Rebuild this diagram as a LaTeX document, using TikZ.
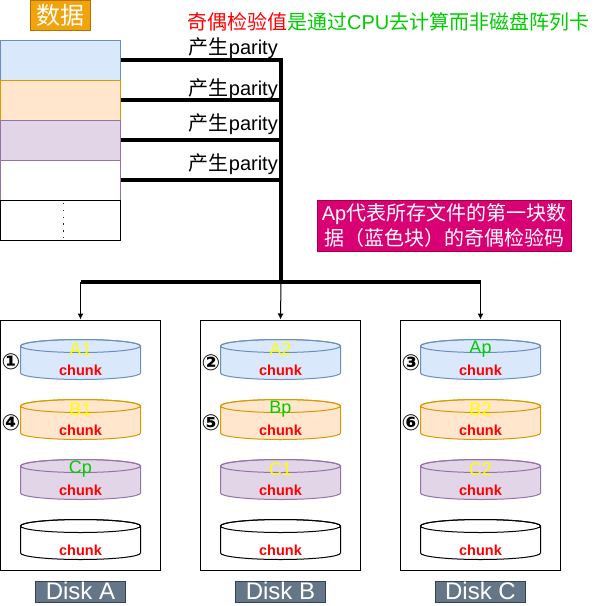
\documentclass[tikz,border=0pt]{standalone}
\usepackage{fontspec}
\setmainfont{Liberation Sans}
\newfontfamily\cjk{Noto Sans CJK SC}
\newfontfamily\circfont{DejaVu Sans}
\usetikzlibrary{positioning,arrows.meta}
\definecolor{blkfill}{HTML}{DAE8FC}
\definecolor{blkline}{HTML}{6C8EBF}
\definecolor{orgfill}{HTML}{FFE6CC}
\definecolor{orgline}{HTML}{D79B00}
\definecolor{purfill}{HTML}{E1D5E7}
\definecolor{purline}{HTML}{9673A6}
\definecolor{tagfill}{HTML}{F0A30A}
\definecolor{tagline}{HTML}{BD7000}
\definecolor{notefill}{HTML}{D80073}
\definecolor{noteline}{HTML}{A50040}
\definecolor{diskfill}{HTML}{647687}
\definecolor{diskline}{HTML}{314354}
\definecolor{pgreen}{HTML}{00CC00}
\definecolor{pyellow}{HTML}{FFFF00}
\newcommand\pxsize[1]{\fontsize{#1}{#1}\selectfont}

\begin{document}
\begin{tikzpicture}[x=1pt, y=-1pt,
    row/.style={draw, line width=1pt, minimum width=120pt, minimum height=40pt, inner sep=0pt, outer sep=0pt},
    bus/.style={line width=3.5pt},
    feed/.style={line width=1pt, ->, >={Latex[length=6pt,width=6pt]}},
    plabel/.style={anchor=east, inner sep=0pt, font=\pxsize{20}},
    disk/.style={draw, line width=1pt, minimum width=160pt, minimum height=250pt, inner sep=0pt},
    drum/.style 2 args={minimum width=122pt, minimum height=42pt, inner sep=0pt, outer sep=0pt,
      label={[text=red, font=\bfseries\pxsize{14.5}, yshift=-11pt]center:chunk},
      path picture={
        \path[fill=#1, draw=#2, line width=1pt] ([shift={(-60pt,13.5pt)}]path picture bounding box.center)
          -- ++(0pt,-27pt) arc[start angle=180, end angle=360, x radius=60pt, y radius=6.5pt]
          -- ++(0pt,27pt) arc[start angle=0, end angle=180, x radius=60pt, y radius=6.5pt] -- cycle;
        \draw[#2, line width=1pt] ([yshift=13.5pt]path picture bounding box.center)
          ellipse[x radius=60pt, y radius=6.5pt];}},
    toplbl/.style={text=pyellow, font=\pxsize{18}, yshift=10pt},
    num/.style={inner sep=0pt, font=\circfont\bfseries\pxsize{22}},
    diskname/.style={draw=diskline, fill=diskfill, text=white, line width=1pt, minimum width=90pt,
      minimum height=21pt, inner sep=0pt, text height=17pt, text depth=1pt, font=\pxsize{24}}]
  \useasboundingbox (0,0) rectangle (594,606);

  % data blocks
  \node[row, draw=blkline, fill=blkfill] (d1) at (60.5,60) {};
  \node[row, draw=orgline, fill=orgfill, below=0pt of d1] (d2) {};
  \node[row, draw=purline, fill=purfill, below=0pt of d2] (d3) {};
  \node[row, draw=purline, below=0pt of d3] (d4) {};
  \node[row, below=0pt of d4] (d5) {};
  \draw[line width=1.4pt, gray!30!black, dash pattern=on 1.4pt off 5.4pt]
    ([xshift=3pt,yshift=-3pt]d5.north) -- ([xshift=3pt,yshift=2pt]d5.south);
  \node[draw=tagline, fill=tagfill, text=white, line width=1pt, minimum width=60pt, minimum height=30pt,
    inner sep=0pt, font=\cjk\pxsize{24}, above=9.5pt of d1] (tag) {数据};

  % titles
  \node[anchor=west, inner sep=0pt, font=\cjk\pxsize{20}] (title) at (187,22)
    {\color{red}奇偶检验值\color{pgreen}是通过{\rmfamily CPU}去计算而非磁盘阵列卡};
  \node[plabel] (p1) at (278,48) {{\cjk 产生}parity};
  \node[plabel] (p2) at (278,89) {{\cjk 产生}parity};
  \node[plabel] (p3) at (278,124) {{\cjk 产生}parity};
  \node[plabel] (p4) at (278,164) {{\cjk 产生}parity};
  \node[draw=noteline, fill=notefill, text=white, line width=1pt, minimum width=254pt, minimum height=51pt,
    inner sep=0pt, align=center, font=\cjk\fontsize{20}{25}\selectfont] (note) at (444,225.5)
    {{\rmfamily Ap}代表所存文件的第一块数\\据（蓝色块）的奇偶检验码};

  % disks
  \node[disk] (diskA) at (80.5,445) {};
  \node[disk] (diskB) at (280.5,445) {};
  \node[disk] (diskC) at (480.5,445) {};
  \node[diskname, below=10pt of diskA] (nameA) {Disk A};
  \node[diskname, below=10pt of diskB] (nameB) {Disk B};
  \node[diskname, below=10pt of diskC] (nameC) {Disk C};

  \node[drum={blkfill}{blkline}, below=19pt of diskA.north, label={[toplbl]center:A1}] (a1) {};
  \node[drum={orgfill}{orgline}, below=18pt of a1, label={[toplbl]center:B1}] (a2) {};
  \node[drum={purfill}{purline}, below=18pt of a2, label={[toplbl, text=pgreen]center:Cp}] (a3) {};
  \node[drum={white}{black}, below=18pt of a3] (a4) {};
  \node[drum={blkfill}{blkline}, below=19pt of diskB.north, label={[toplbl]center:A2}] (b1) {};
  \node[drum={orgfill}{orgline}, below=18pt of b1, label={[toplbl, text=pgreen]center:Bp}] (b2) {};
  \node[drum={purfill}{purline}, below=18pt of b2, label={[toplbl]center:C1}] (b3) {};
  \node[drum={white}{black}, below=18pt of b3] (b4) {};
  \node[drum={blkfill}{blkline}, below=19pt of diskC.north, label={[toplbl, text=pgreen]center:Ap}] (c1) {};
  \node[drum={orgfill}{orgline}, below=18pt of c1, label={[toplbl]center:B2}] (c2) {};
  \node[drum={purfill}{purline}, below=18pt of c2, label={[toplbl]center:C2}] (c3) {};
  \node[drum={white}{black}, below=18pt of c3] (c4) {};

  \node[num, left=-1pt of a1, yshift=-2pt] (n1) {①};
  \node[num, left=-1pt of b1, yshift=-3pt] (n2) {②};
  \node[num, left=-1pt of c1, yshift=-3pt] (n3) {③};
  \node[num, left=-1pt of a2, yshift=-3pt] (n4) {④};
  \node[num, left=-1pt of b2, yshift=-3pt] (n5) {⑤};
  \node[num, left=-1pt of c2, yshift=-3pt] (n6) {⑥};

  % parity bus
  \coordinate (j1) at (281,60);
  \coordinate (j2) at (281,100);
  \coordinate (j3) at (281,140);
  \coordinate (j4) at (281,180);
  \coordinate (hub) at (281,282);
  \coordinate (busA) at (80.5,282);
  \coordinate (busC) at (480.5,282);
  \draw[bus] (d1.east) -- (j1);
  \draw[bus] (d2.east) -- (j2);
  \draw[bus] (d3.east) -- (j3);
  \draw[bus] (d4.east) -- (j4);
  \draw[bus] ([yshift=1.75pt]j1) -- (hub);
  \draw[bus] (busA) -- (busC);
  \draw[feed] (busA) -- (diskA.north);
  \draw[feed] (hub) -- (diskB.north);
  \draw[feed] (busC) -- (diskC.north);
\end{tikzpicture}
\end{document}
